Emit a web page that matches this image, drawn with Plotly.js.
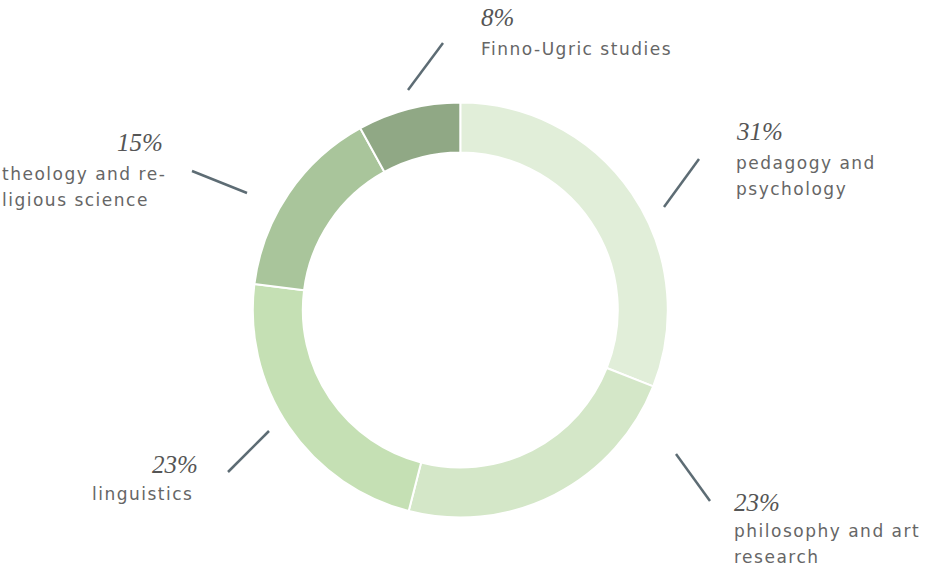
<!DOCTYPE html>
<html>
<head>
<meta charset="utf-8">
<script src="https://cdn.plot.ly/plotly-3.0.1.min.js"></script>
<style>
html,body{margin:0;padding:0;background:#fff;}
#chart{width:926px;height:571px;}
text.annotation-text[style*="DejaVu Sans"]{letter-spacing:1.5px;}
</style>
</head>
<body>
<div id="chart"></div>
<script>
// Data
var categories = ["pedagogy and psychology", "philosophy and art research", "linguistics", "theology and religious science", "Finno-Ugric studies"];
var shares = [31, 23, 23, 15, 8];
var labelLines = [
  ["pedagogy and", "psychology"],
  ["philosophy and art", "research"],
  ["linguistics"],
  ["theology and re-", "ligious science"],
  ["Finno-Ugric studies"]
];

// Styles
var sliceColors = ["#e1eed9", "#d4e7c8", "#c5e0b4", "#a9c59b", "#90a885"];
var W = 926, H = 571;
// label placement (pixels): [pct x, pct anchor, pct baseline y, name left x, first name baseline y]
var labelPos = [
  [737, 'left', 139, 737, 169],
  [735, 'left', 510, 735, 537],
  [197, 'right', 472, 93, 500],
  [162, 'right', 150, 3, 180],
  [482, 'left', 25, 482, 55]
];
var leaderLines = [
  [664, 207, 699, 159],
  [676, 454, 710, 501],
  [228, 472, 269, 431],
  [192, 171, 247, 193],
  [408, 90, 443, 43]
];
var pctSize = 25, nameSize = 17, lineGap = 26.5, padFix = 3;

function px(x){return x / W;}
function py(y){return 1 - y / H;}

var annotations = [];
shares.forEach(function(v, i){
  var p = labelPos[i];
  annotations.push({
    xref:'paper', yref:'paper', x: px(p[0]), y: py(p[2] - pctSize*0.3),
    xanchor: p[1], yanchor:'middle', showarrow:false,
    xshift: p[1] === 'left' ? -padFix : padFix,
    text: v + '%',
    font:{family:'"Liberation Serif", "DejaVu Serif", serif', size:pctSize, style:'italic', color:'#555'}
  });
  labelLines[i].forEach(function(t, j){
    annotations.push({
      xref:'paper', yref:'paper', x: px(p[3]), y: py(p[4] + j*lineGap - nameSize*0.36),
      xanchor: 'left', yanchor:'middle', showarrow:false, xshift: -padFix,
      text: t, captureevents:false,
      font:{family:'"DejaVu Sans", sans-serif', size:nameSize, color:'#666'}
    });
  });
});

var shapes = leaderLines.map(function(l){
  return {type:'line', xref:'paper', yref:'paper', x0:px(l[0]), y0:py(l[1]), x1:px(l[2]), y1:py(l[3]),
    line:{color:'#5d6c74', width:2.5}};
});

var cx = 460.3, cy = 310, R = 207.5;
var trace = {
  type:'pie',
  labels: categories,
  values: shares,
  sort:false,
  direction:'clockwise',
  rotation:0,
  hole:0.759,
  textinfo:'none',
  hoverinfo:'label+percent',
  marker:{colors:sliceColors, line:{color:'#ffffff', width:2}},
  domain:{x:[px(cx - R), px(cx + R)], y:[py(cy + R), py(cy - R)]},
  showlegend:false
};

var layout = {
  width:W, height:H,
  margin:{l:0,r:0,t:0,b:0},
  paper_bgcolor:'#ffffff',
  plot_bgcolor:'#ffffff',
  showlegend:false,
  annotations: annotations,
  shapes: shapes
};

Plotly.newPlot('chart', [trace], layout, {displayModeBar:false, staticPlot:true});
</script>
</body>
</html>
